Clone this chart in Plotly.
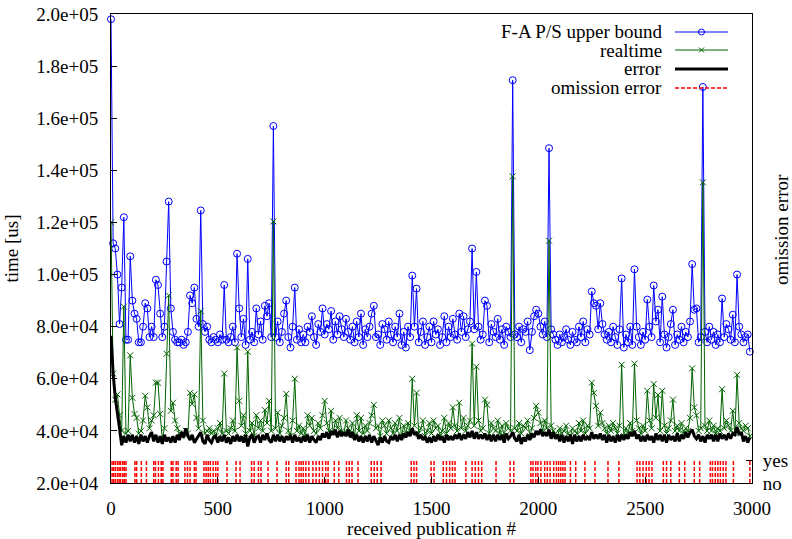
import plotly.graph_objects as go

# ---------------- data (times in thousands of microseconds) ----------------
pub_step = 10  # one sample every 10 received publications

upper_bound_k = [
    198, 112, 110, 100, 81, 95, 122, 75, 75, 107,
    90, 85, 83, 74, 74, 80, 89, 87, 76, 80,
    76, 98, 96, 85, 76, 80, 105, 128, 87, 78,
    75, 74, 74, 75, 73, 74, 78, 92, 89, 95,
    83, 80, 124.6, 81, 78, 80, 75, 74, 76, 75,
    74, 77, 75, 96, 75, 74, 76, 80, 74, 108,
    87, 76, 83, 73, 106, 75, 78, 74, 87, 77,
    82, 75, 88, 84, 89, 76, 157, 76, 82, 74,
    78, 85, 90, 76, 72, 80, 95, 75, 79, 74,
    77, 74, 80, 78, 84, 76, 73, 81, 78, 87,
    77, 81, 79, 86, 75, 82, 77, 84, 79, 76,
    83, 78, 75, 80, 74, 82, 76, 85, 73, 79,
    76, 80, 85, 88, 76, 77, 73, 81, 79, 75,
    82, 77, 74, 80, 76, 85, 73, 78, 72, 80,
    76, 99.6, 80, 94.6, 74, 78, 82, 73, 76, 80,
    74, 82, 77, 79, 73, 76, 84, 74, 80, 76,
    83, 77, 75, 85, 78, 84, 76, 79, 82, 110,
    79, 101, 80, 75, 77, 90, 88, 74, 81, 78,
    76, 83, 75, 79, 73, 80, 78, 76, 174.6, 77,
    76, 80, 74, 79, 78, 82, 71, 78, 84, 86.5,
    85, 80, 77, 82, 76, 148.5, 79, 77, 75, 73,
    77, 74, 76, 79, 75, 73, 78, 75, 74, 80,
    76, 82, 74, 79, 77, 93.5, 89, 88, 79, 89,
    81, 77, 75, 78, 74, 80, 76, 73, 79, 98.5,
    72, 77, 74, 80, 73, 102, 80, 76, 73, 78,
    75, 90.4, 80, 76, 95.8, 82, 86.5, 74, 91.5, 77,
    72, 76, 81, 86.5, 73, 77, 75, 80, 74, 78,
    76, 82, 104, 86.5, 87, 74, 76, 172, 78, 74,
    80, 75, 78, 73, 77, 74, 90.8, 76, 81, 79,
    75, 84.6, 74, 100, 80, 77, 74, 76, 77, 70.4,
]

realtime_k = [
    120, 62, 52, 54, 46, 40, 87.7, 39, 40, 69,
    52.7, 46.5, 45, 39, 40, 44, 53.5, 49, 41, 44,
    46, 58.5, 58.5, 46.5, 37, 41, 69.6, 92, 47.7, 50.8,
    44, 41, 39, 38, 39, 40, 39, 54.6, 50.3, 54,
    45, 41, 86, 44, 39, 40, 41, 39, 40, 38,
    41, 43, 39, 62, 40, 39, 41, 44, 40, 72,
    51.5, 42, 46, 39, 70.4, 40, 43, 38, 46, 41,
    44, 40, 48, 43, 51.5, 40, 120.4, 41, 47, 39,
    42, 45, 54.2, 40, 38, 44, 60, 40, 42, 39,
    41, 38, 46, 42, 45, 40, 39, 43, 41, 46,
    51.5, 43, 40, 47.7, 39, 44, 41, 45, 40, 39,
    44, 41, 39, 43, 38, 46, 40, 45, 39, 42,
    40, 43, 46, 50, 41, 42, 38, 44, 42, 39,
    44, 41, 39, 43, 40, 45, 38, 42, 39, 43,
    40, 60, 42, 54.6, 39, 41, 44, 38, 40, 43,
    39, 44, 41, 42, 38, 40, 45, 39, 43, 41,
    49, 42, 40, 50.8, 41, 45, 40, 42, 44, 73.5,
    42, 64.6, 44, 40, 41, 52, 50, 39, 43, 41,
    40, 44, 39, 42, 38, 43, 41, 40, 137.7, 41,
    40, 43, 39, 42, 41, 44, 38, 41, 45, 49.6,
    47, 43, 40, 44, 41, 113, 42, 40, 39, 38,
    41, 39, 40, 42, 39, 38, 41, 40, 39, 43,
    40, 44, 39, 42, 41, 58.5, 54.6, 49.6, 42, 47,
    43, 41, 39, 42, 40, 43, 41, 39, 42, 65.4,
    38, 41, 39, 43, 40, 65.8, 44, 41, 39, 42,
    40, 55.4, 44, 41, 58, 45, 53.8, 40, 55.4, 42,
    39, 41, 44, 52, 40, 42, 40, 43, 39, 41,
    40, 45, 64, 49, 46, 40, 41, 135.4, 42, 40,
    44, 40, 42, 39, 41, 40, 56, 41, 44, 42,
    40, 47.7, 39, 61.5, 43, 41, 40, 42, 41, 38,
]

error_k = [
    76.5, 62, 52.7, 47.7, 41, 34.5, 38, 35.5, 38.5, 36,
    38.5, 35.5, 38, 35, 38.5, 36, 38, 35.5, 38, 39.5,
    36, 38.5, 35.5, 38, 35, 38.5, 36, 37.5, 35.5, 38,
    35.5, 38.5, 36.5, 39.5, 37.5, 41, 38, 36.5, 38.5, 35.5,
    37, 38.5, 39.5, 36, 35, 38.5, 36.5, 35.5, 37.5, 38,
    35.5, 38, 36, 38.5, 35.5, 37.5, 35, 38, 36, 38.5,
    36, 38, 35.5, 38.5, 34, 37.5, 38.5, 35.5, 37.5, 38,
    35.5, 38.5, 36.5, 39, 36.5, 35.5, 38.5, 36, 38.5, 36,
    38, 35.5, 38, 36.5, 38.5, 35.5, 38.5, 36, 37.5, 35.5,
    38, 36, 38.5, 35.5, 38, 36.5, 35.5, 38, 36.5, 39,
    37.5, 39.5, 37, 40, 38.5, 40.5, 37.5, 40, 38, 39.5,
    38, 40.5, 37.5, 39.5, 36.5, 38.5, 36, 38, 35.5, 38,
    36, 38.5, 35.5, 38, 36.5, 34.5, 37.5, 35.5, 38, 36,
    35.5, 38, 36.5, 38.5, 36, 38.5, 36.5, 39, 37.5, 39.5,
    38, 41, 38.5, 39.5, 37, 38.5, 36.5, 38, 35.5, 37.5,
    35.5, 38, 36, 38.5, 36.5, 38, 35.5, 38.5, 36.5, 38,
    36.5, 38.5, 37, 39, 36.5, 38.5, 37, 39.5, 37.5, 40,
    37, 39.5, 37, 38.5, 37, 39, 36.5, 38.5, 36, 38.5,
    36, 38.5, 36.5, 38.5, 35.5, 39, 37, 38, 39.5, 37,
    36, 38.5, 35, 37.5, 36, 38.5, 36.5, 39, 37.5, 40,
    38.5, 40.5, 38, 39.5, 38, 40.5, 37, 39.5, 37, 38.5,
    36, 38.5, 35.5, 38, 36, 38.5, 35, 38.5, 36, 38,
    36, 38.5, 36.5, 38, 36.5, 39.5, 37, 38.5, 37, 39,
    36.5, 38.5, 35.5, 38.5, 36, 38, 35.5, 38.5, 36, 38.5,
    36.5, 38.5, 37, 39.5, 38, 40, 37, 38.5, 36, 38,
    36, 38.5, 36.5, 38, 35.5, 39, 36.5, 38.5, 36, 38.5,
    35.5, 38.5, 36.5, 38, 36, 39, 36, 38.5, 37, 39.5,
    37.5, 39.5, 40.5, 38, 37, 38.5, 36, 38, 35.5, 38.5,
    37, 38.5, 36, 38.5, 36, 39, 37, 38.5, 36.5, 39,
    37, 39, 38.5, 41.5, 38.5, 39.5, 36, 38, 35.5, 37.5,
]

# publications (#) at which an omission error occurred ("yes")
omission_pubs = [
    5, 12, 20, 30, 38, 45, 55, 62, 70, 112, 120, 142, 166,
    200, 208, 222, 235, 243, 282, 290, 305, 314, 346, 358, 370, 390, 398,
    435, 445, 455, 465, 478, 490, 500, 543, 585, 604, 658, 670, 690, 702,
    735, 777, 820, 832, 866, 880, 890, 900, 912, 926,
    945, 960, 975, 990, 1005, 1016, 1045, 1066, 1102, 1115, 1128, 1156,
    1218, 1232, 1246, 1264, 1405, 1418, 1430, 1498, 1512,
    1555, 1570, 1585, 1598, 1610, 1661, 1690, 1705, 1720, 1735, 1802,
    1868, 1885, 1965, 1975, 1988, 1998, 2012, 2030, 2042, 2055, 2072,
    2085, 2095, 2105, 2115, 2125, 2150, 2175, 2218, 2265, 2326, 2377,
    2462, 2475, 2490, 2505, 2518, 2532, 2585, 2600, 2620, 2660, 2685,
    2730, 2755, 2805, 2815, 2828, 2840, 2852, 2865, 2878, 2913, 2990,
]

series_names = ["F-A P/S upper bound", "realtime", "error", "omission error"]
x_tick_vals = [0, 500, 1000, 1500, 2000, 2500, 3000]
y_tick_vals = [20000, 40000, 60000, 80000, 100000, 120000, 140000, 160000, 180000, 200000]
y_tick_text = ["2.0e+04", "4.0e+04", "6.0e+04", "8.0e+04", "1.0e+05",
               "1.2e+05", "1.4e+05", "1.6e+05", "1.8e+05", "2.0e+05"]
y2_tick_vals = [0, 1]
y2_tick_text = ["no", "yes"]

# ---------------- derived arrays ----------------
pubs = [i * pub_step for i in range(len(upper_bound_k))]
upper_us = [v * 1000 for v in upper_bound_k]
real_us = [v * 1000 for v in realtime_k]
err_us = [v * 1000 for v in error_k]

om_x, om_y = [], []
for p in omission_pubs:
    om_x += [p, p, None]
    om_y += [y2_tick_vals[0], y2_tick_vals[1], None]

BLUE = "#0000ff"
GREEN = "#006400"
RED = "#ff0000"
FONT = "Liberation Serif"
FS = 19

fig = go.Figure()
fig.add_trace(go.Scatter(x=pubs, y=upper_us, mode="lines+markers", name=series_names[0],
                         line=dict(color=BLUE, width=1),
                         marker=dict(symbol="circle-open", size=7, color=BLUE, line=dict(width=1)),
                         cliponaxis=False, showlegend=False))
fig.add_trace(go.Scatter(x=pubs, y=real_us, mode="lines+markers", name=series_names[1],
                         line=dict(color=GREEN, width=1),
                         marker=dict(symbol="x-thin-open", size=6, color=GREEN, line=dict(width=1, color=GREEN)),
                         showlegend=False))
fig.add_trace(go.Scatter(x=pubs, y=err_us, mode="lines", name=series_names[2],
                         line=dict(color="black", width=3), showlegend=False))
fig.add_trace(go.Scatter(x=om_x, y=om_y, mode="lines", name=series_names[3], yaxis="y2",
                         line=dict(color=RED, width=1.5, dash="4px,2px"), showlegend=False))

# ---------------- gnuplot-style legend (text left, sample right) ----------------
L, R, T, B = 111, 752, 14, 483
def px(x):
    return (x - L) / (R - L)
def py(y):
    return (B - y) / (B - T)

legend_rows = [32, 50, 69, 88]
legend_styles = [(BLUE, 1, "solid"), (GREEN, 1, "solid"), ("black", 3, "solid"), (RED, 1.5, "dash")]
shapes = []
annotations = []
for name, ry, (col, w, dsh) in zip(series_names, legend_rows, legend_styles):
    annotations.append(dict(x=px(664), y=py(ry), xref="paper", yref="paper", text=name,
                            showarrow=False, xanchor="right", yanchor="middle",
                            font=dict(family=FONT, size=FS, color="black")))
    shapes.append(dict(type="line", xref="paper", yref="paper", x0=px(675), x1=px(728),
                       y0=py(ry), y1=py(ry), line=dict(color=col, width=w,
                       dash="4px,2px" if dsh == "dash" else "solid")))
# legend markers
shapes.append(dict(type="circle", xref="paper", yref="paper", x0=px(698.5), x1=px(704.5),
                   y0=py(29), y1=py(35), line=dict(color=BLUE, width=1)))
shapes.append(dict(type="line", xref="paper", yref="paper", x0=px(699), x1=px(704),
                   y0=py(47.5), y1=py(52.5), line=dict(color=GREEN, width=1)))
shapes.append(dict(type="line", xref="paper", yref="paper", x0=px(699), x1=px(704),
                   y0=py(52.5), y1=py(47.5), line=dict(color=GREEN, width=1)))

# right-side axis title
annotations.append(dict(x=px(782), y=py(230), xref="paper", yref="paper", text="omission error",
                        textangle=-90, showarrow=False, xanchor="center", yanchor="middle",
                        font=dict(family=FONT, size=FS, color="black")))

fig.update_layout(
    width=792, height=539,
    margin=dict(l=111, r=40, t=14, b=56, autoexpand=False),
    paper_bgcolor="white", plot_bgcolor="white",
    font=dict(family=FONT, size=FS, color="black"),
    showlegend=False,
    xaxis=dict(range=[0, 3000], tickvals=x_tick_vals, ticks="inside", ticklen=6,
               tickcolor="black", showline=True, linecolor="black", linewidth=1, mirror=True,
               showgrid=False, zeroline=False, ticklabelstandoff=8, automargin=False,
               title=dict(text="received publication #", standoff=2,
                          font=dict(family=FONT, size=FS))),
    yaxis=dict(range=[20000, 200000], tickvals=y_tick_vals, ticktext=y_tick_text,
               ticks="inside", ticklen=6, tickcolor="black", showline=True,
               linecolor="black", linewidth=1, mirror=False, showgrid=False,
               zeroline=False, ticklabelstandoff=8, automargin=False,
               title=dict(text="time [us]", standoff=12, font=dict(family=FONT, size=FS))),
    yaxis2=dict(overlaying="y", side="right", range=[0, 469 / 23],
                tickvals=y2_tick_vals, ticktext=y2_tick_text, ticks="inside", ticklen=6,
                tickcolor="black", showline=True, linecolor="black", linewidth=1,
                showgrid=False, zeroline=False, ticklabelstandoff=6, automargin=False),
    shapes=shapes,
    annotations=annotations,
)

fig.write_html("out.html")
